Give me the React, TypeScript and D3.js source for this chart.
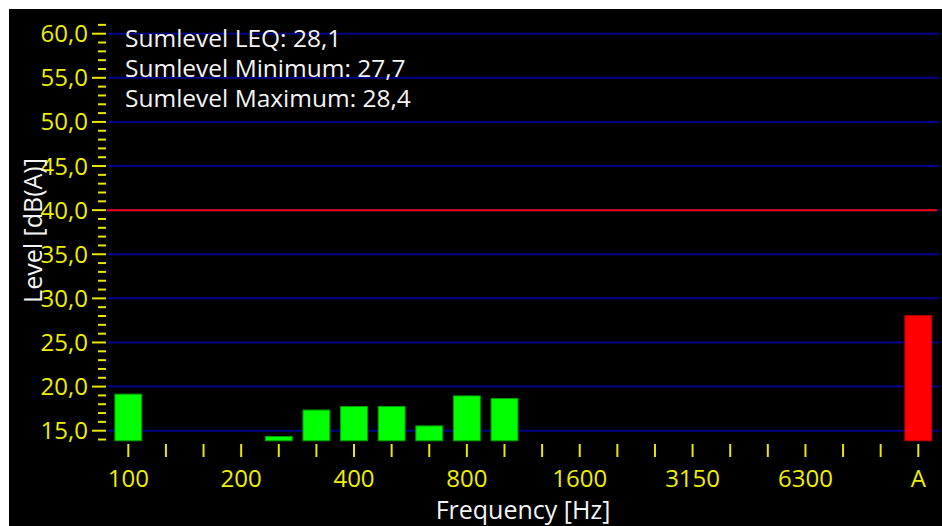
import React from "react";
import * as d3 from "d3";

const categories = ["100","125","160","200","250","315","400","500","630","800","1000","1250","1600","2000","2500","3150","4000","5000","6300","8000","10000","A"];
const levels: (number | null)[] = [19.2,null,null,null,14.4,17.4,17.8,17.8,15.6,19.0,18.7,null,null,null,null,null,null,null,null,null,null,28.1];
const shownXLabels = ["100","200","400","800","1600","3150","6300","A"];
const yMajorTicks = [15,20,25,30,35,40,45,50,55,60];
const limitLevel = 40;
const sumLabels = ["Sumlevel LEQ", "Sumlevel Minimum", "Sumlevel Maximum"];
const sumValues = [28.1, 27.7, 28.4];

const W = 942, H = 526;
const FONT = "'Open Sans', 'Noto Sans', sans-serif";

export default function App() {
  const y = d3.scaleLinear().domain([15, 60]).range([430.7, 33.7]);
  const yMin = 13.8;
  const yBottom = y(yMin);
  const x = d3.scaleBand<string>().domain(categories).range([109.5, 937.1]).paddingInner(0.26).paddingOuter(0.13);
  const plotL = 107, plotR = 939;
  const fmt = (v: number) => d3.format(".1f")(v).replace(".", ",");
  const minorTicks = d3.range(14, 62).filter((v) => v % 5 !== 0);

  return (
    <div style={{ position: "fixed", left: 0, top: 0, width: W, height: H, background: "#fff" }}>
      <svg width={W} height={H} style={{ display: "block" }}>
        <rect x={9} y={9} width={W - 9} height={H - 9} fill="#000" />
        {/* grid */}
        {yMajorTicks.map((t) => (
          <line key={"g" + t} x1={plotL} x2={plotR} y1={y(t)} y2={y(t)} stroke="#00008b" strokeWidth={2} />
        ))}
        <line x1={plotL} x2={937} y1={y(limitLevel)} y2={y(limitLevel)} stroke="#ff0000" strokeWidth={2} />
        {/* bars */}
        {categories.map((c, i) => {
          const v = levels[i];
          if (v == null) return null;
          const isA = c === "A";
          const x0 = x(c)!;
          return (
            <rect key={"b" + c} x={x0 + 0.5} y={y(v) + 0.5} width={x.bandwidth() - 1} height={yBottom - y(v) - 1}
              fill={isA ? "#ff0000" : "#00ff00"} stroke={isA ? "#c00000" : "#00a000"} strokeWidth={1} />
          );
        })}
        {/* y axis ticks */}
        {minorTicks.map((t) => (
          <line key={"m" + t} x1={98} x2={106} y1={y(t)} y2={y(t)} stroke="#e8e800" strokeWidth={2} />
        ))}
        {yMajorTicks.map((t) => (
          <g key={"yt" + t}>
            <line x1={92} x2={106} y1={y(t)} y2={y(t)} stroke="#e8e800" strokeWidth={2} />
            <text x={88} y={y(t) + 8.5} textAnchor="end" fill="#eeee00" fontFamily={FONT} fontSize={24}>{fmt(t)}</text>
          </g>
        ))}
        {/* x axis ticks */}
        {categories.map((c) => {
          const cx = x(c)! + x.bandwidth() / 2;
          return (
            <g key={"xt" + c}>
              <line x1={cx} x2={cx} y1={444} y2={457} stroke="#e8e800" strokeWidth={2} />
              {shownXLabels.includes(c) && (
                <text x={cx} y={487} textAnchor="middle" fill="#eeee00" fontFamily={FONT} fontSize={24}>{c}</text>
              )}
            </g>
          );
        })}
        {/* titles */}
        <text x={(plotL + plotR) / 2} y={519} textAnchor="middle" fill="#f4f4f4" fontFamily={FONT} fontSize={25}>Frequency [Hz]</text>
        <text transform={`translate(42,230.5) rotate(-90)`} textAnchor="middle" fill="#f4f4f4" fontFamily={FONT} fontSize={25}>Level [dB(A)]</text>
        {/* summary */}
        {sumLabels.map((s, i) => (
          <text key={"s" + i} x={125} y={47 + i * 30} fill="#f4f4f4" fontFamily={FONT} fontSize={24.5}>{`${s}: ${fmt(sumValues[i])}`}</text>
        ))}
      </svg>
    </div>
  );
}
